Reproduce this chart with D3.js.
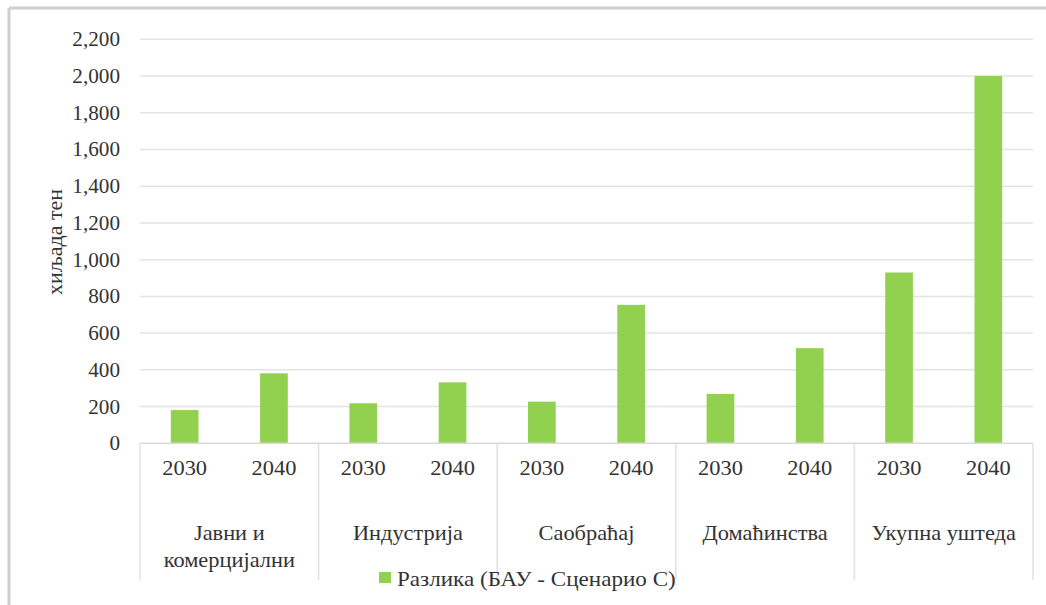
<!DOCTYPE html>
<html><head><meta charset="utf-8">
<script src="https://cdn.jsdelivr.net/npm/d3@7"></script>
<style>
body{margin:0;background:#fff;}
svg{display:block;}
svg text, svg tspan{font-family:"Liberation Serif","Times New Roman",Tinos,serif !important;}
</style></head>
<body>
<svg id="c" width="1046" height="605"></svg>
<script>
const groups = ["Јавни и комерцијални","Индустрија","Саобраћај","Домаћинства","Укупна уштеда"];
const groupLines = [["Јавни и","комерцијални"],["Индустрија"],["Саобраћај"],["Домаћинства"],["Укупна уштеда"]];
const years = ["2030","2040"];
const values = [181, 381, 218, 332, 227, 754, 269, 518, 930, 2000];
const yTicks = [0,200,400,600,800,1000,1200,1400,1600,1800,2000,2200];
const seriesName = "Разлика (БАУ - Сценарио С)";
const yTitle = "хиљада тен";

(function(){
const FF = "Liberation Serif, Times New Roman, Tinos, serif";
const svg = d3.select("#c");
const pL = 140, pR = 1033, pT = 39.3, pB = 443.3;
const tc = "#333333";
function font(sel, size){
  return sel.attr("font-family",FF).style("font-family",FF).style("font-size",size+"px").attr("fill",tc);
}

// frame
svg.append("line").attr("x1",9).attr("x2",1046).attr("y1",8).attr("y2",8).attr("stroke","#cfcfcf").attr("stroke-width",3);
svg.append("line").attr("x1",9).attr("x2",9).attr("y1",8).attr("y2",605).attr("stroke","#cfcfcf").attr("stroke-width",3);

const cats = [];
groups.forEach((g,gi)=>years.forEach(yy=>cats.push(gi+"|"+yy)));
const x = d3.scaleBand().domain(cats).range([pL,pR]).paddingInner(0.69).paddingOuter(0.345);
const xg = d3.scaleBand().domain(groups).range([pL,pR]);
const y = d3.scaleLinear().domain([0,2200]).range([pB,pT]);

// gridlines
svg.append("g").selectAll("line").data(yTicks.filter(t=>t>0)).join("line")
  .attr("x1",pL).attr("x2",pR).attr("y1",d=>y(d)).attr("y2",d=>y(d))
  .attr("stroke","#e3e3e3").attr("stroke-width",1.5);

// y tick labels
font(svg.append("g").selectAll("text").data(yTicks).join("text")
  .attr("transform",d=>`translate(120,${y(d)}) scale(1.06,1)`).attr("dy","0.35em").attr("text-anchor","end"),20)
  .text(d=>d3.format(",")(d));

// bars
svg.append("g").selectAll("rect").data(values).join("rect")
  .attr("x",(d,i)=>x(cats[i])).attr("width",x.bandwidth())
  .attr("y",d=>y(d)).attr("height",d=>y(0)-y(d)).attr("fill","#92D050");

// axis line
svg.append("line").attr("x1",pL).attr("x2",pR).attr("y1",pB).attr("y2",pB).attr("stroke","#d9d9d9").attr("stroke-width",1.5);
// separators
const seps = groups.map(g=>xg(g)).concat([pR]);
svg.append("g").selectAll("line").data(seps).join("line")
  .attr("x1",d=>d).attr("x2",d=>d).attr("y1",pB).attr("y2",580)
  .attr("stroke","#e0e0e0").attr("stroke-width",1.5);

// year labels
font(svg.append("g").selectAll("text").data(cats).join("text")
  .attr("transform",d=>`translate(${x(d)+x.bandwidth()/2},475) scale(1.12,1)`).attr("text-anchor","middle"),20)
  .text(d=>d.split("|")[1]);

// group labels
const gl = font(svg.append("g").selectAll("text").data(groups).join("text")
  .attr("transform",d=>`translate(${xg(d)+xg.bandwidth()/2},540) scale(1.12,1)`).attr("text-anchor","middle"),20);
gl.each(function(d,i){
  const t = d3.select(this);
  groupLines[i].forEach((l,j)=>t.append("tspan").attr("x",0).attr("y",j*27).text(l));
});

// y title
font(svg.append("text").attr("transform","translate(62,242) rotate(-90) scale(1.1,1)").attr("text-anchor","middle"),20)
  .text(yTitle);

// legend
svg.append("rect").attr("x",379).attr("y",572).attr("width",12).attr("height",11).attr("fill","#92D050");
font(svg.append("text").attr("transform","translate(397,586) scale(1.1,1)"),21).text(seriesName);
})();
</script>
</body></html>
